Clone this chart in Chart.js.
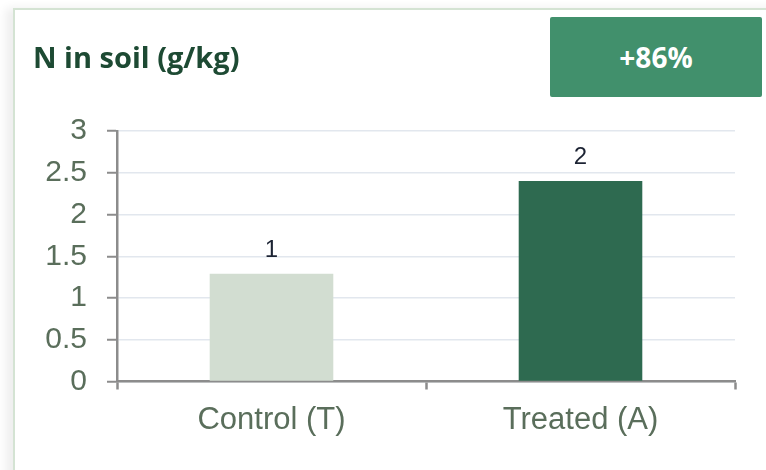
<!DOCTYPE html>
<html>
<head>
<meta charset="utf-8">
<script src="https://cdn.jsdelivr.net/npm/chart.js@4/dist/chart.umd.min.js"></script>
<style>
  html, body { margin: 0; padding: 0; background: #fff; }
  body { width: 766px; height: 470px; position: relative; overflow: hidden; }
  .card {
    position: absolute; left: 13px; top: 8px; width: 800px; height: 500px;
    border-left: 2px solid #d4e3d3; border-top: 2px solid #d4e3d3;
    box-shadow: -7px 0 9px rgba(0,0,0,0.07);
    background: #fff;
  }
  .title {
    position: absolute; left: 33px; top: 42px; margin: 0;
    font: 700 29px/1 "Open Sans", sans-serif; color: #1d4a33;
    white-space: nowrap;
  }
  .badge {
    position: absolute; left: 550px; top: 17px; width: 212px; height: 80px;
    background: #41906c; border-radius: 2px;
    display: flex; align-items: center; justify-content: center;
    font: 700 28px/1 "Open Sans", sans-serif; color: #fff;
  }
  #chart { position: absolute; left: 0; top: 0; }
</style>
</head>
<body>
<div class="card"></div>
<canvas id="chart" width="766" height="470"></canvas>
<h1 class="title">N in soil (g/kg)</h1>
<div class="badge" id="badge"></div>
<script>
// Nitrogen content in soil, control plot vs treated plot
const categories = ["Control (T)", "Treated (A)"];
const nitrogen = [1.29, 2.4];
const barColors = ["#d2ddd1", "#2e6a50"];
const yTicks = [0, 0.5, 1, 1.5, 2, 2.5, 3];

// Relative gain of the treated plot over the control
const gain = Math.round((nitrogen[1] / nitrogen[0] - 1) * 100);
document.getElementById("badge").textContent = "+" + gain + "%";

const axisGrey = "#8c8c8c";
const tickText = "#5a6e5b";

// Value labels above each bar, shown rounded to whole numbers
const barLabels = {
  id: "barLabels",
  afterDatasetsDraw(chart) {
    const ctx = chart.ctx;
    const meta = chart.getDatasetMeta(0);
    ctx.save();
    ctx.font = '24px "Liberation Sans", Arial, sans-serif';
    ctx.fillStyle = "#1c2333";
    ctx.textAlign = "center";
    ctx.textBaseline = "alphabetic";
    meta.data.forEach((bar, i) => {
      const v = chart.data.datasets[0].data[i];
      ctx.fillText(v.toFixed(0), bar.x, bar.y - 17);
    });
    ctx.restore();
  }
};

new Chart(document.getElementById("chart"), {
  type: "bar",
  data: {
    labels: categories,
    datasets: [{
      data: nitrogen,
      backgroundColor: barColors,
      borderWidth: 0,
      barPercentage: 0.4,
      categoryPercentage: 1.0
    }]
  },
  options: {
    responsive: false,
    animation: false,
    devicePixelRatio: 1,
    layout: { padding: { top: 131, right: 31, bottom: 0, left: 0 } },
    plugins: { legend: { display: false }, tooltip: { enabled: false } },
    scales: {
      y: {
        min: 0, max: 3,
        afterFit(s) { s.width = 117; },
        afterBuildTicks(s) { s.ticks = yTicks.map(v => ({ value: v })); },
        border: { color: axisGrey, width: 2.5 },
        grid: {
          color: "#e2e7ee", lineWidth: 1.5,
          tickColor: axisGrey, tickLength: 10, tickWidth: 2
        },
        ticks: {
          padding: 20,
          color: tickText,
          font: { family: '"Liberation Sans", Arial, sans-serif', size: 30 },
          callback: (v) => String(Number(v))
        }
      },
      x: {
        afterFit(s) { s.height = 88.5; },
        border: { color: axisGrey, width: 2.5 },
        grid: {
          drawOnChartArea: false, offset: true,
          tickColor: axisGrey, tickLength: 8, tickWidth: 2.5
        },
        ticks: {
          padding: 12,
          color: tickText,
          font: { family: '"Liberation Sans", Arial, sans-serif', size: 31 }
        }
      }
    }
  },
  plugins: [barLabels]
});
</script>
</body>
</html>
